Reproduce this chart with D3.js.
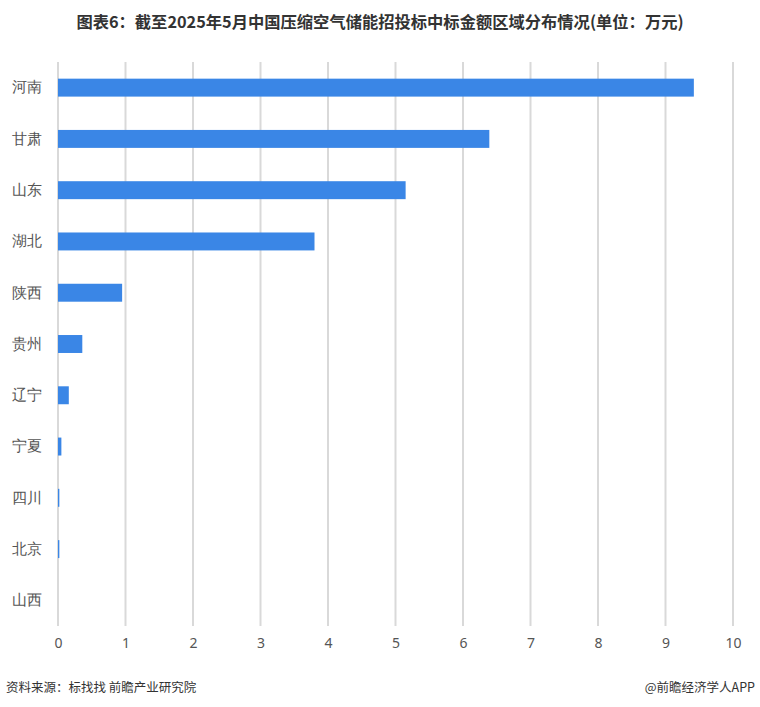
<!DOCTYPE html>
<html><head><meta charset="utf-8">
<script src="https://cdn.jsdelivr.net/npm/d3@7/dist/d3.min.js"></script>
<style>body{margin:0;background:#fff;} svg{display:block;font-family:"Noto Sans CJK SC","Noto Sans",sans-serif;}</style>
</head><body>
<svg id="c" width="760" height="707"></svg>
<script>
const categories = ["河南","甘肃","山东","湖北","陕西","贵州","辽宁","宁夏","四川","北京","山西"];
const values = [9.42, 6.39, 5.15, 3.80, 0.95, 0.36, 0.16, 0.05, 0.02, 0.02, 0];
const xTicks = [0,1,2,3,4,5,6,7,8,9,10];
const title = "图表6：截至2025年5月中国压缩空气储能招投标中标金额区域分布情况(单位：万元)";
const source = "资料来源：标找找 前瞻产业研究院";
const credit = "@前瞻经济学人APP";

const svg = d3.select("#c");
const x = d3.scaleLinear().domain([0,10]).range([58,733]);
const y = d3.scaleBand().domain(categories).range([62,626]).paddingInner(0.65).paddingOuter(0.325);

svg.append("text").attr("x",380).attr("y",28).attr("text-anchor","middle")
  .attr("font-size",16.3).attr("font-weight","bold").attr("fill","#333").text(title);

svg.append("g").selectAll("line").data(xTicks).join("line")
  .attr("x1",d=>x(d)).attr("x2",d=>x(d)).attr("y1",62).attr("y2",626)
  .attr("stroke","#d9d9d9").attr("stroke-width",2);

svg.append("g").selectAll("rect").data(categories).join("rect")
  .attr("x",x(0)).attr("y",d=>y(d)).attr("height",y.bandwidth())
  .attr("width",(d,i)=>Math.max(0,x(values[i])-x(0)))
  .attr("fill","#3a86e6");

const xa = svg.append("g").attr("transform","translate(0,626)")
  .call(d3.axisBottom(x).tickValues(xTicks).tickSize(0).tickPadding(12).tickFormat(d3.format("d")));
xa.select(".domain").remove();
xa.selectAll("text").attr("font-size",14).attr("fill","#555").attr("font-family","'Noto Sans','Noto Sans CJK SC',sans-serif");

const ya = svg.append("g").attr("transform","translate(42,0)")
  .call(d3.axisLeft(y).tickSize(0).tickPadding(0));
ya.select(".domain").remove();
ya.selectAll("text").attr("font-size",15).attr("fill","#555");

svg.append("text").attr("x",6).attr("y",692).attr("font-size",12.5).attr("fill","#333").text(source);
svg.append("text").attr("x",755).attr("y",692).attr("text-anchor","end").attr("font-size",12.5).attr("fill","#333").text(credit);
</script>
</body></html>
